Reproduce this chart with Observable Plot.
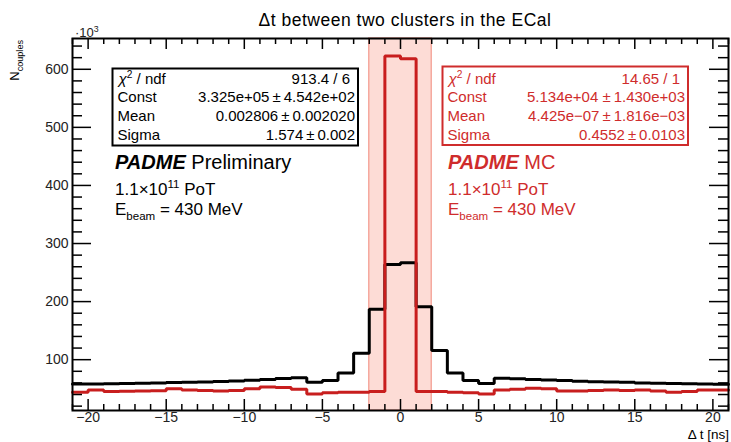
<!DOCTYPE html>
<html>
<head>
<meta charset="utf-8">
<script src="https://cdn.jsdelivr.net/npm/d3@7"></script>
<script src="https://cdn.jsdelivr.net/npm/@observablehq/plot@0.6"></script>
<style>
  html, body { margin: 0; padding: 0; background: #fff; }
  #chart svg { display: block; }
</style>
</head>
<body>
<div id="chart"></div>
<script>
// ---------- data (counts in units of 10^3) ----------
const binEdges = [-21,-20,-19,-18,-17,-16,-15,-14,-13,-12,-11,-10,-9,-8,-7,-6,-5,-4,-3,-2,-1,0,
                  1,2,3,4,5,6,7,8,9,10,11,12,13,14,15,16,17,18,19,20,21];
const dataCounts = [58,58,58.5,59,59.5,60,60.5,61,61.5,62.5,63.5,64.5,66,67.5,69,61,64,77,111,187,264,
                    267,191,116,77,64,59,68,67,66,65,64,63,62,61.5,61,60,59.5,59,58.5,58,57.5];
const mcCounts   = [44,48,45,45.5,46,46.5,50,48,47,46,47,50,53,52,49,41,43,44,44,45,623,
                    618,45,45,44,43,41,48,49,51,50,46,46,47,48,47,48,46,44,45,48,48];
const signalWindow = [-2, 2];
const xMajorTicks = [-20,-15,-10,-5,0,5,10,15,20];
const xMinorTicks = [-21,-19,-18,-17,-16,-14,-13,-12,-11,-9,-8,-7,-6,-4,-3,-2,-1,1,2,3,4,6,7,8,9,11,12,13,14,16,17,18,19,21];
const yMajorTicks = [100,200,300,400,500,600];
const yMinorTicks = [20,40,60,80,120,140,160,180,220,240,260,280,320,340,360,380,420,440,460,480,520,540,560,580,620,640];
const dataFit = [["χ2 / ndf","913.4 / 6"],["Const","3.325e+05\u2009±\u20094.542e+02"],["Mean","0.002806\u2009±\u20090.002020"],["Sigma","1.574\u2009±\u20090.002"]];
const mcFit   = [["χ2 / ndf","14.65 / 1"],["Const","5.134e+04 ±\u20091.430e+03"],["Mean","4.425e−07\u2009±\u20091.816e−03"],["Sigma","0.4552\u2009±\u20090.0103"]];

// ---------- layout ----------
const WIDTH = 731, HEIGHT = 442;
const M = {top: 38, right: 3, bottom: 32, left: 72};
const IW = WIDTH - M.left - M.right, IH = HEIGHT - M.top - M.bottom;
const FONT = "'Liberation Sans', Arial, Helvetica, sans-serif";
const RED_LINE = "#c81e1e", RED_TEXT = "#cf2c2c";

function steps(counts) {
  const pts = [];
  counts.forEach((v, i) => { pts.push({x: binEdges[i], y: v}); pts.push({x: binEdges[i+1], y: v}); });
  return pts;
}

function rich(g, x, y, parts, {size, fill = "#000", anchor = "start", spacing = 0} = {}) {
  const t = g.append("text").attr("x", x).attr("y", y).attr("font-size", size)
    .attr("fill", fill).attr("text-anchor", anchor).attr("font-family", FONT)
    .attr("letter-spacing", spacing).style("white-space", "pre");
  let cur = 0;
  for (const p of parts) {
    const shift = p.sup ? -size * 0.42 : p.sub ? size * 0.28 : 0;
    const s = t.append("tspan").attr("dy", shift - cur).text(p.t);
    cur = shift;
    if (p.sup || p.sub) s.attr("font-size", size * (p.scale || 0.68));
    if (p.bold) s.attr("font-weight", "bold");
    if (p.italic) s.attr("font-style", "italic");
  }
  return t;
}

function statBox(g, fit, box, color) {
  g.append("rect").attr("x", box.x).attr("y", box.y).attr("width", box.w).attr("height", box.h)
    .attr("fill", "#fff").attr("stroke", color).attr("stroke-width", 2);
  const base = [84, 102, 120.5, 139.5];
  fit.forEach(([lab, val], i) => {
    if (i === 0) {
      rich(g, box.x + 6, base[i], [{t: "χ", italic: true}, {t: "2", sup: true}, {t: " / ndf"}], {size: 15, fill: color});
    } else {
      rich(g, box.x + 5, base[i], [{t: lab}], {size: 15, fill: color});
    }
    rich(g, box.x + box.w - (i === 0 ? 8 : 3), base[i], [{t: val}], {size: 15, fill: color, anchor: "end"});
  });
}

function annotations() {
  const g = d3.create("svg:g");
  // title
  rich(g, 405, 26, [{t: "Δt between two clusters in the ECal"}], {size: 17.5, fill: "#000", anchor: "middle", spacing: 0.5});
  // y exponent
  rich(g, 75, 37, [{t: "·10"}, {t: "3", sup: true}], {size: 13, fill: "#222"});
  // y label
  const yl = rich(g, 0, 0, [{t: "N"}, {t: "couples", sub: true, scale: 0.7}], {size: 13, fill: "#000", anchor: "end"});
  yl.attr("transform", "translate(19,40) rotate(-90)");
  // x label
  rich(g, 729, 439, [{t: "Δ t [ns]"}], {size: 13.5, fill: "#000", anchor: "end"});
  // stat boxes
  statBox(g, dataFit, {x: 112.5, y: 68.5, w: 245.5, h: 77}, "#000");
  statBox(g, mcFit, {x: 442.5, y: 66.5, w: 245.5, h: 78.5}, RED_TEXT);
  // labels
  const blocks = [[115, "Preliminary", "#000"], [448, "MC", RED_TEXT]];
  for (const [x, tag, c] of blocks) {
    rich(g, x, 169, [{t: "PADME", bold: true, italic: true}, {t: " " + tag}], {size: 20, fill: c});
    rich(g, x, 195, [{t: "1.1×10"}, {t: "11", sup: true}, {t: " PoT"}], {size: 17, fill: c});
    rich(g, x, 215, [{t: "E"}, {t: "beam", sub: true}, {t: " = 430 MeV"}], {size: 17, fill: c});
  }
  return g.node();
}

const fmtX = d => d < 0 ? "−" + Math.abs(d) : String(d);

const chart = Plot.plot({
  width: WIDTH, height: HEIGHT,
  marginTop: M.top, marginRight: M.right, marginBottom: M.bottom, marginLeft: M.left,
  style: {fontFamily: FONT, background: "#fff", overflow: "visible"},
  x: {domain: [-21, 21], axis: null},
  y: {domain: [12.5, 653], axis: null},
  marks: [
    Plot.rect([signalWindow], {x1: d => d[0], x2: d => d[1], fill: "#fddcd6", stroke: "#f5a99f", strokeWidth: 1.5}),
    Plot.line(steps(dataCounts), {x: "x", y: "y", stroke: "#000", strokeWidth: 3, strokeLinejoin: "miter"}),
    Plot.line(steps(mcCounts), {x: "x", y: "y", stroke: RED_LINE, strokeWidth: 3, strokeLinejoin: "miter"}),
    // ticks (inward, ROOT style)
    Plot.ruleX(xMajorTicks, {x: d => d, insetTop: IH - 11, stroke: "#000", strokeWidth: 1.5}),
    Plot.ruleX(xMinorTicks, {x: d => d, insetTop: IH - 6, stroke: "#000", strokeWidth: 1.5}),
    Plot.ruleX(xMajorTicks, {x: d => d, insetBottom: IH - 11, stroke: "#000", strokeWidth: 1.5}),
    Plot.ruleX(xMinorTicks, {x: d => d, insetBottom: IH - 6, stroke: "#000", strokeWidth: 1.5}),
    Plot.ruleY(yMajorTicks, {y: d => d, insetRight: IW - 19, stroke: "#000", strokeWidth: 1.5}),
    Plot.ruleY(yMinorTicks, {y: d => d, insetRight: IW - 10, stroke: "#000", strokeWidth: 1.5}),
    Plot.ruleY(yMajorTicks, {y: d => d, insetLeft: IW - 19, stroke: "#000", strokeWidth: 1.5}),
    Plot.ruleY(yMinorTicks, {y: d => d, insetLeft: IW - 10, stroke: "#000", strokeWidth: 1.5}),
    // tick labels
    Plot.text(xMajorTicks, {x: d => d, frameAnchor: "bottom", dy: 11, text: fmtX, fontSize: 14, fill: "#222"}),
    Plot.text(yMajorTicks, {y: d => d, frameAnchor: "left", dx: -4, textAnchor: "end", text: d => String(d), fontSize: 14, fill: "#222"}),
    Plot.frame({stroke: "#000", strokeWidth: 2}),
    annotations
  ]
});
document.getElementById("chart").appendChild(chart);
</script>
</body>
</html>
